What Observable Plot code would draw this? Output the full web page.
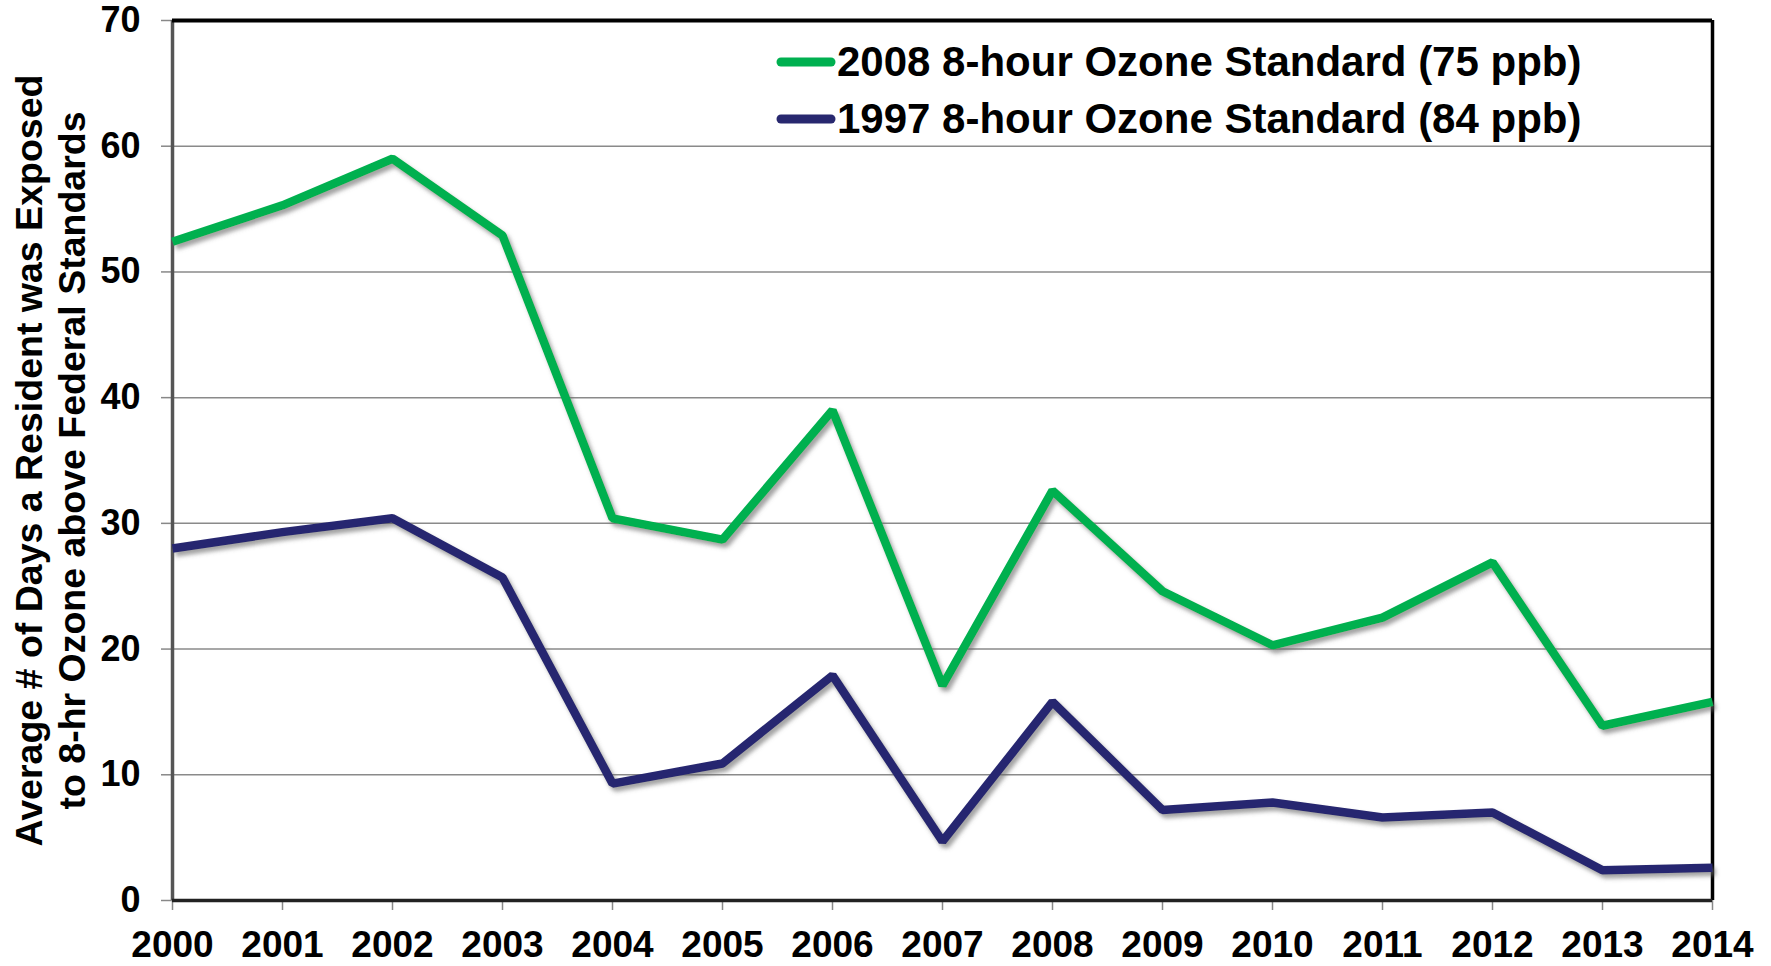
<!DOCTYPE html>
<html>
<head>
<meta charset="utf-8">
<script src="https://cdn.jsdelivr.net/npm/d3@7"></script>
<script src="https://cdn.jsdelivr.net/npm/@observablehq/plot@0.6"></script>
<style>
  html, body { margin: 0; padding: 0; background: #fff; }
  #wrap { position: relative; width: 1771px; height: 966px; font-family: "Liberation Sans", Arial, sans-serif; font-weight: bold; }
  #legend { position: absolute; left: 776px; top: 33px; font-size: 42px; line-height: 57px; color: #000; }
  #legend .row { display: flex; align-items: center; white-space: nowrap; }
  #legend svg { display: block; margin-right: 1px; }
</style>
</head>
<body>
<div id="wrap"></div>
<script>
const years = [2000, 2001, 2002, 2003, 2004, 2005, 2006, 2007, 2008, 2009, 2010, 2011, 2012, 2013, 2014];
const std2008 = [52.4, 55.3, 59.0, 52.9, 30.4, 28.7, 39.0, 17.1, 32.6, 24.6, 20.3, 22.5, 26.9, 13.9, 15.8];
const std1997 = [28.0, 29.3, 30.4, 25.7, 9.3, 10.9, 17.9, 4.7, 15.8, 7.2, 7.8, 6.6, 7.0, 2.4, 2.6];
const seriesNames = ["2008 8-hour Ozone Standard (75 ppb)", "1997 8-hour Ozone Standard (84 ppb)"];
const seriesColors = ["#00b050", "#28286f"];
const yTicks = [0, 10, 20, 30, 40, 50, 60, 70];
const yTitle = "Average # of Days a Resident was Exposed\nto 8-hr Ozone above Federal Standards";

const rows = [];
years.forEach((yr, i) => {
  rows.push({year: yr, value: std2008[i], series: seriesNames[0]});
  rows.push({year: yr, value: std1997[i], series: seriesNames[1]});
});

const chart = Plot.plot({
  width: 1771,
  height: 966,
  marginLeft: 172,
  marginRight: 59,
  marginTop: 20,
  marginBottom: 66,
  style: {fontFamily: '"Liberation Sans", Arial, sans-serif', fontWeight: "bold", background: "#fff", color: "#000", overflow: "visible"},
  x: {domain: [2000, 2014]},
  y: {domain: [0, 70]},
  color: {domain: seriesNames, range: seriesColors},
  marks: [
    Plot.gridY(yTicks.filter(t => t > 0 && t < 70), {stroke: "#8a8a8a", strokeOpacity: 1, strokeWidth: 1.5}),
    Plot.axisY(yTicks, {tickSize: 11, tickPadding: 21, fontSize: 36, fontWeight: "bold", stroke: "#888", strokeWidth: 1.5, label: null, tickFormat: d => String(d)}),
    Plot.axisX(years, {tickSize: 10, tickPadding: 20, fontSize: 37, fontWeight: "bold", stroke: "#888", strokeWidth: 1.5, label: null, tickFormat: d => String(d)}),
    Plot.ruleX([years[0]], {stroke: "#555", strokeWidth: 3.5}),
    Plot.ruleX([years[years.length - 1]], {stroke: "#000", strokeWidth: 3.5}),
    Plot.ruleY([yTicks[yTicks.length - 1]], {stroke: "#000", strokeWidth: 4}),
    Plot.ruleY([0], {stroke: "#222", strokeWidth: 3.5}),
    Plot.line(rows, {x: "year", y: "value", z: "series", stroke: "series", strokeWidth: 8.5, strokeLinejoin: "miter", strokeLinecap: "butt", className: "series-line"}),
    Plot.text([yTitle], {frameAnchor: "left", rotate: -90, dx: -123, textAnchor: "middle", lineAnchor: "middle", lineHeight: 1.17, fontSize: 37.5, fontWeight: "bold", fill: "#000"})
  ]
});

// drop shadow like the original
const svgNS = "http://www.w3.org/2000/svg";
const defs = document.createElementNS(svgNS, "defs");
defs.innerHTML = '<filter id="shadow" x="-5%" y="-5%" width="110%" height="120%"><feDropShadow dx="3" dy="4" stdDeviation="2.2" flood-color="#666" flood-opacity="0.6"/></filter>';
chart.insertBefore(defs, chart.firstChild);
chart.querySelectorAll("g.series-line, .series-line").forEach(g => g.setAttribute("filter", "url(#shadow)"));

const wrap = document.getElementById("wrap");
wrap.appendChild(chart);

// legend (HTML overlay inside the plot frame)
const legend = document.createElement("div");
legend.id = "legend";
seriesNames.forEach((name, i) => {
  const row = document.createElement("div");
  row.className = "row";
  row.innerHTML = `<svg width="60" height="12"><line x1="5" y1="6" x2="55" y2="6" stroke="${seriesColors[i]}" stroke-width="9" stroke-linecap="round"/></svg><span>${name}</span>`;
  legend.appendChild(row);
});
wrap.appendChild(legend);
</script>
</body>
</html>
